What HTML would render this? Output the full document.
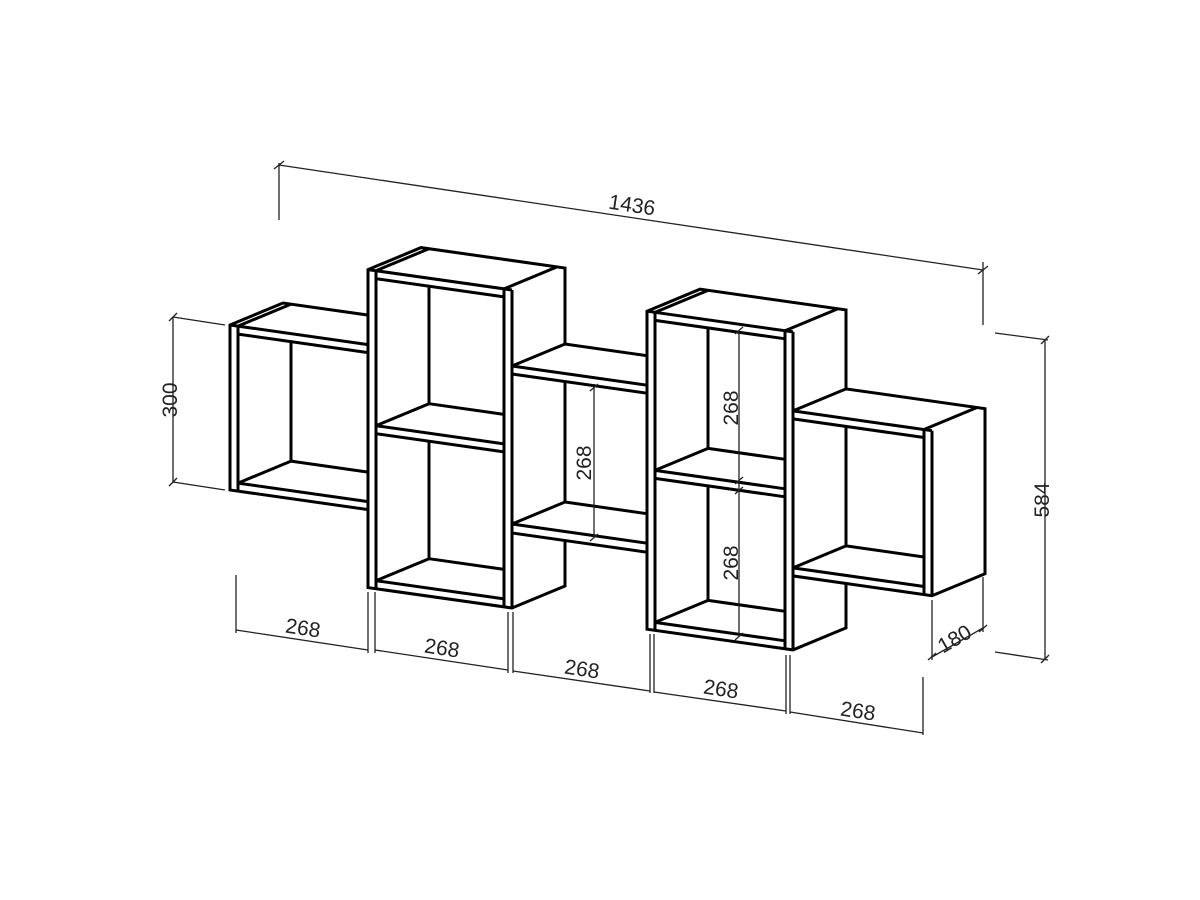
<!DOCTYPE html>
<html><head><meta charset="utf-8"><style>
html,body{margin:0;padding:0;background:#fff;}
svg{display:block;}
text{font-family:"Liberation Sans",sans-serif;font-size:21px;fill:#222;}
</style></head><body>
<svg id="s" width="1200" height="900" viewBox="0 0 1200 900" xmlns="http://www.w3.org/2000/svg">
<rect width="1200" height="900" fill="#fff"/>
<g id="boxes" stroke="#000" stroke-width="3" stroke-linejoin="miter" fill="none"></g>
<g id="dims" stroke="#222" stroke-width="1.3" fill="none">
<!-- 1436 -->
<line x1="279" y1="163" x2="279" y2="220"/>
<line x1="983" y1="262" x2="983" y2="325"/>
<line x1="279" y1="165" x2="983" y2="270"/>
<line x1="274" y1="169" x2="284" y2="161"/><line x1="978" y1="274" x2="988" y2="266"/>
<!-- 300 -->
<line x1="173" y1="317" x2="173" y2="483"/>
<line x1="173" y1="317" x2="225" y2="325"/>
<line x1="173" y1="482" x2="225" y2="490"/>
<line x1="169" y1="321" x2="177" y2="313"/><line x1="169" y1="486" x2="177" y2="478"/>
<!-- 584 -->
<line x1="1045" y1="340" x2="1045" y2="659"/>
<line x1="995" y1="333" x2="1048" y2="340"/>
<line x1="995" y1="652" x2="1048" y2="660"/>
<line x1="1041" y1="344" x2="1049" y2="336"/><line x1="1041" y1="663" x2="1049" y2="655"/>
<!-- 180 -->
<line x1="932" y1="600" x2="932" y2="660"/>
<line x1="983" y1="577" x2="983" y2="632"/>
<line x1="932" y1="657" x2="983" y2="628"/>
<line x1="928" y1="660" x2="936" y2="653"/><line x1="979" y1="632" x2="987" y2="625"/>
<!-- bottom 268s -->
<line x1="236" y1="575" x2="236" y2="633"/>
<line x1="368" y1="592" x2="368" y2="653"/><line x1="375" y1="592" x2="375" y2="653"/>
<line x1="508" y1="612" x2="508" y2="673"/><line x1="513" y1="612" x2="513" y2="673"/>
<line x1="650" y1="634" x2="650" y2="693"/><line x1="654" y1="634" x2="654" y2="693"/>
<line x1="786" y1="655" x2="786" y2="714"/><line x1="790" y1="655" x2="790" y2="714"/>
<line x1="923" y1="677" x2="923" y2="735"/>
<line x1="236" y1="630" x2="368" y2="650"/>
<line x1="375" y1="650" x2="508" y2="670"/>
<line x1="513" y1="671" x2="650" y2="691"/>
<line x1="654" y1="692" x2="786" y2="711"/>
<line x1="790" y1="712" x2="923" y2="733"/>
<g id="ticks"></g>
<!-- inner verticals -->
<line x1="594" y1="387" x2="594" y2="538"/>
<line x1="739" y1="330" x2="739" y2="637"/>
<line x1="590" y1="391" x2="598" y2="384"/><line x1="590" y1="541" x2="598" y2="534"/>
<line x1="735" y1="334" x2="743" y2="327"/><line x1="735" y1="484" x2="743" y2="477"/>
<line x1="735" y1="494" x2="743" y2="487"/><line x1="735" y1="640" x2="743" y2="633"/>
</g>
<g stroke="none">
<text transform="translate(631,212) rotate(8.5)" text-anchor="middle">1436</text>
<text transform="translate(177,400) rotate(-90)" text-anchor="middle">300</text>
<text transform="translate(1049,500) rotate(-90)" text-anchor="middle">584</text>
<text transform="translate(958,645) rotate(-30)" text-anchor="middle">180</text>
<text transform="translate(302,635) rotate(8.5)" text-anchor="middle">268</text>
<text transform="translate(441,655) rotate(8.5)" text-anchor="middle">268</text>
<text transform="translate(581,676) rotate(8.5)" text-anchor="middle">268</text>
<text transform="translate(720,696) rotate(8.5)" text-anchor="middle">268</text>
<text transform="translate(857,718) rotate(8.5)" text-anchor="middle">268</text>
<text transform="translate(591,463) rotate(-90)" text-anchor="middle">268</text>
<text transform="translate(738,408) rotate(-90)" text-anchor="middle">268</text>
<text transform="translate(738,563) rotate(-90)" text-anchor="middle">268</text>
</g>
</svg>
<script>
(function(){
var X0=230,Y0=325,k=0.142,DX=53,DY=-22,t=8;
var g=document.getElementById('boxes');
var NS='http://www.w3.org/2000/svg';
function P(u,v,d){return [X0+u+DX*d, Y0+k*u+v+DY*d];}
function add(tag,attrs){var e=document.createElementNS(NS,tag);for(var a in attrs)e.setAttribute(a,attrs[a]);g.appendChild(e);return e;}
function poly(pts,fill){add('polygon',{points:pts.map(function(p){return p[0].toFixed(1)+','+p[1].toFixed(1);}).join(' '),fill:fill||'#fff'});}
function line(a,b){add('line',{x1:a[0].toFixed(1),y1:a[1].toFixed(1),x2:b[0].toFixed(1),y2:b[1].toFixed(1)});}
function box(o){
  var u0=o.u0,u1=o.u1,v0=o.v0,v1=o.v1;
  var pts=[P(u0,v0,0),P(u0,v0,1),P(u1,v0,1)];
  if(o.side){pts.push(P(u1,v1,1));}
  pts.push(P(u1,v1,0),P(u0,v1,0));
  poly(pts);
  // top front edge
  line(P(u0,v0,0),P(u1,v0,0));
  if(o.side) line(P(u1,v0,0),P(u1,v1,0));
  else line(P(u1,v0,1),P(u1,v0,0));
  var uL=o.lp?u0+t:u0, uR=o.rp?u1-t:u1;
  if(o.lp){line(P(u0+t,v0,0),P(u0+t,v0,1));line(P(u0+t,v0,0),P(u0+t,v1,0));}
  if(o.rp){line(P(u1-t,v0,0),P(u1-t,v0,1));line(P(u1-t,v0,0),P(u1-t,v1,0));}
  // boards: list of [top,bottom]
  var b=o.boards;
  for(var i=0;i<b.length;i++){
    if(i>0) line(P(uL,b[i][0],0),P(uR,b[i][0],0));
    if(i<b.length-1) line(P(uL,b[i][1],0),P(uR,b[i][1],0));
  }
  for(var i=0;i<b.length-1;i++){
    var c=b[i][1],e=b[i+1][0],a=uL,bb=uR;
    var bx=X0+a+DX;
    line([bx,Y0+k*(a+DX)+c],P(a,e,1));
    line(P(a,e,0),P(a,e,1));
    line(P(a,e,1),P(bb-DX,e,1));
  }
}
// A
box({u0:0,u1:138,v0:0,v1:165,lp:true,rp:false,side:false,boards:[[0,8],[157,165]]});
// B
box({u0:138,u1:282,v0:-75,v1:243,lp:true,rp:true,side:true,boards:[[-75,-67],[80,88],[235,243]]});
// C
box({u0:282,u1:417,v0:1,v1:168,lp:false,rp:false,side:false,boards:[[1,9],[159,168]]});
// D
box({u0:417,u1:563,v0:-73,v1:245,lp:true,rp:true,side:true,boards:[[-73,-65],[85,93],[237,245]]});
// E
box({u0:563,u1:702,v0:6,v1:171,lp:false,rp:true,side:true,boards:[[6,14],[163,171]]});
})();
</script>
</body></html>
